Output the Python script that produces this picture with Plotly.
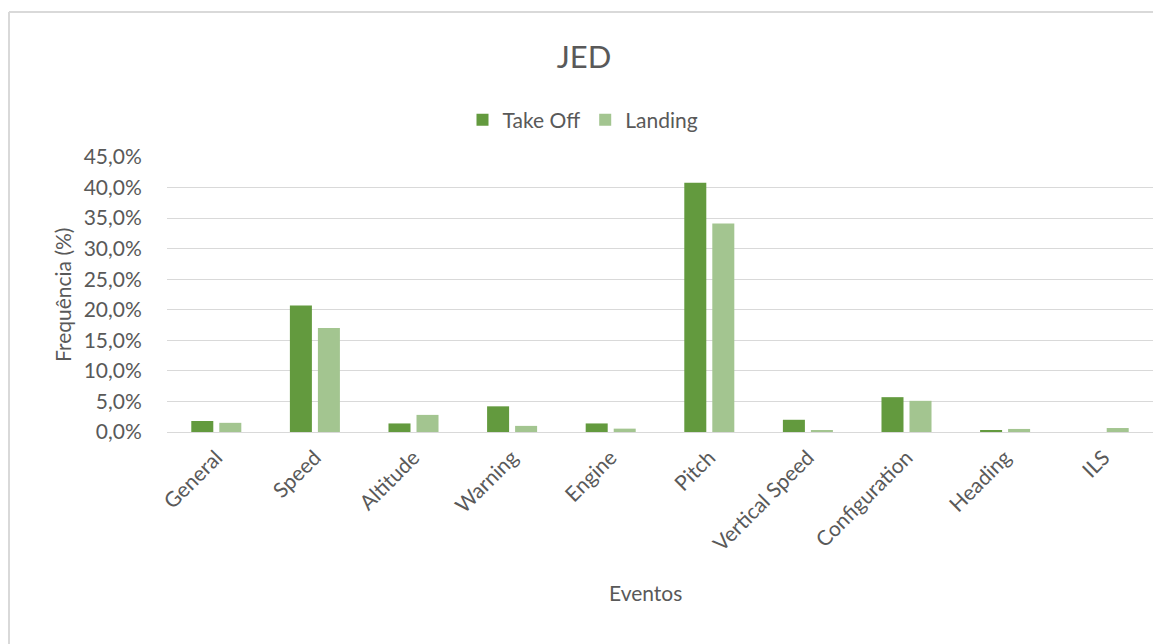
import plotly.graph_objects as go

categories = ["General", "Speed", "Altitude", "Warning", "Engine", "Pitch",
              "Vertical Speed", "Configuration", "Heading", "ILS"]
take_off = [1.8, 20.7, 1.4, 4.2, 1.4, 40.8, 2.0, 5.7, 0.2, 0.0]
landing = [1.5, 17.0, 2.8, 1.0, 0.55, 34.1, 0.2, 5.1, 0.5, 0.65]
y_ticks = [0, 5, 10, 15, 20, 25, 30, 35, 40, 45]
y_tick_labels = ["0,0%", "5,0%", "10,0%", "15,0%", "20,0%", "25,0%",
                 "30,0%", "35,0%", "40,0%", "45,0%"]

W, H = 1153, 644
L, R, T, B = 167, 0, 157, 212
pw, ph = W - L - R, H - T - B

def px(x):
    return (x - L) / pw

def py(y):
    return (H - B - y) / ph

FONT = "Lato"
GREY = "#595959"

fig = go.Figure()
fig.add_bar(x=categories, y=take_off, name="Take Off",
            marker=dict(color="#639A3E", line=dict(width=0)))
fig.add_bar(x=categories, y=landing, name="Landing",
            marker=dict(color="#A3C590", line=dict(width=0)))

fig.update_layout(
    width=W, height=H,
    margin=dict(l=L, r=R, t=T, b=B),
    paper_bgcolor="white", plot_bgcolor="white",
    barmode="group", bargap=0.432, bargroupgap=0.214,
    font=dict(family=FONT, color=GREY, size=21),
    title=dict(text="JED", x=584 / W, xanchor="center", y=1 - 57 / H, yanchor="middle",
               font=dict(family=FONT, size=31, color=GREY)),
    legend=dict(orientation="h", x=px(583), xanchor="center", y=py(120), yanchor="middle",
                font=dict(family=FONT, size=21, color=GREY), itemwidth=30,
                traceorder="normal", bgcolor="rgba(0,0,0,0)"),
    showlegend=True,
    hovermode=False,
)
fig.update_xaxes(tickangle=-45, tickfont=dict(family=FONT, size=21, color=GREY),
                 showgrid=False, showline=False, range=[-0.5, 9.5],
                 ticks="outside", ticklen=4, tickcolor="rgba(0,0,0,0)")
fig.update_yaxes(range=[0, 45], tickvals=y_ticks, ticktext=y_tick_labels,
                 showgrid=True, gridcolor="#D9D9D9", gridwidth=1,
                 zeroline=True, zerolinecolor="#D9D9D9", zerolinewidth=1,
                 showline=False, ticks="outside", ticklen=20, tickcolor="rgba(0,0,0,0)",
                 tickfont=dict(family=FONT, size=21, color=GREY))

fig.add_annotation(text="Frequência (%)", textangle=-90, x=px(62), y=py(295),
                   xref="paper", yref="paper", showarrow=False,
                   xanchor="center", yanchor="middle",
                   font=dict(family=FONT, size=21, color=GREY))
fig.add_annotation(text="Eventos", x=px(645), y=py(592),
                   xref="paper", yref="paper", showarrow=False,
                   xanchor="center", yanchor="middle",
                   font=dict(family=FONT, size=21, color=GREY))

# chart border (top and left, cropped)
fig.add_shape(type="line", xref="paper", yref="paper",
              x0=px(9), x1=px(1200), y0=py(12), y1=py(12),
              line=dict(color="#D9D9D9", width=2))
fig.add_shape(type="line", xref="paper", yref="paper",
              x0=px(9), x1=px(9), y0=py(12), y1=py(700),
              line=dict(color="#D9D9D9", width=2))

fig.write_html("out.html")
